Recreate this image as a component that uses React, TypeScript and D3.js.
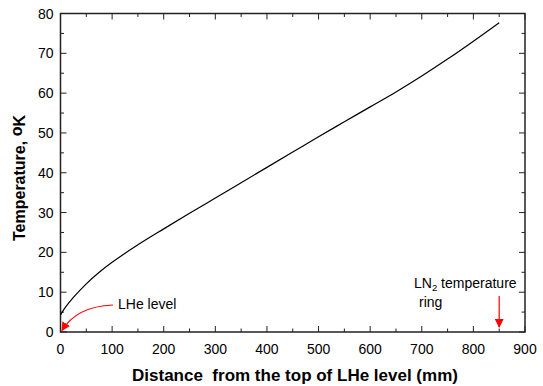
import * as d3 from "d3"
import { useEffect, useRef } from "react"

// distance from top of LHe level (mm) vs temperature (K)
const distance = [0, 10, 25, 50, 75, 100, 150, 200, 250, 300, 350, 400, 450, 500, 550, 600, 650, 700, 750, 800, 850]
const temperature = [4.3, 6.3, 8.7, 12.1, 15.0, 17.5, 21.9, 25.9, 29.8, 33.65, 37.5, 41.35, 45.2, 49.05, 52.8, 56.55, 60.3, 64.3, 68.55, 73.05, 77.7]

const xMajor = [0, 100, 200, 300, 400, 500, 600, 700, 800, 900]
const xMinor = [50, 150, 250, 350, 450, 550, 650, 750, 850]
const yMajor = [0, 10, 20, 30, 40, 50, 60, 70, 80]
const yMinor = [5, 15, 25, 35, 45, 55, 65, 75]

const W = 543
const H = 386
const margin = { left: 60.5, right: 18, top: 13.5, bottom: 54 }
const FONT = "'Liberation Sans', Arial, sans-serif"

const App = () => {
    const svgRef = useRef(null)

    useEffect(() => {
        const svg = d3.select(svgRef.current)
        svg.selectAll("*").remove()

        const x = d3.scaleLinear().domain([0, 900]).range([margin.left, W - margin.right])
        const y = d3.scaleLinear().domain([0, 80]).range([H - margin.bottom, margin.top])
        const [x0, x1] = x.range()
        const [y0, y1] = y.range()

        const defs = svg.append("defs")
        defs.append("marker")
            .attr("id", "redhead")
            .attr("viewBox", "0 0 10 10")
            .attr("refX", 9).attr("refY", 5)
            .attr("markerWidth", 9).attr("markerHeight", 9)
            .attr("markerUnits", "userSpaceOnUse")
            .attr("orient", "auto")
            .append("path")
            .attr("d", "M0,0 L10,5 L0,10 Z")
            .attr("fill", "#ff0000")

        // frame
        svg.append("rect")
            .attr("x", x0).attr("y", y1)
            .attr("width", x1 - x0).attr("height", y0 - y1)
            .attr("fill", "none").attr("stroke", "#222").attr("stroke-width", 1.5)

        const g = svg.append("g").attr("stroke", "#222").attr("stroke-width", 1)
        // inward ticks on all sides
        xMajor.forEach(v => {
            g.append("line").attr("x1", x(v)).attr("x2", x(v)).attr("y1", y0).attr("y2", y0 - 6)
            g.append("line").attr("x1", x(v)).attr("x2", x(v)).attr("y1", y1).attr("y2", y1 + 6)
        })
        xMinor.forEach(v => {
            g.append("line").attr("x1", x(v)).attr("x2", x(v)).attr("y1", y0).attr("y2", y0 - 3.5)
            g.append("line").attr("x1", x(v)).attr("x2", x(v)).attr("y1", y1).attr("y2", y1 + 3.5)
        })
        yMajor.forEach(v => {
            g.append("line").attr("x1", x0).attr("x2", x0 + 6).attr("y1", y(v)).attr("y2", y(v))
            g.append("line").attr("x1", x1).attr("x2", x1 - 6).attr("y1", y(v)).attr("y2", y(v))
        })
        yMinor.forEach(v => {
            g.append("line").attr("x1", x0).attr("x2", x0 + 3.5).attr("y1", y(v)).attr("y2", y(v))
            g.append("line").attr("x1", x1).attr("x2", x1 - 3.5).attr("y1", y(v)).attr("y2", y(v))
        })

        // tick labels
        svg.append("g").selectAll("text").data(xMajor).join("text")
            .attr("x", d => x(d)).attr("y", y0 + 22)
            .attr("text-anchor", "middle")
            .attr("font-family", FONT).attr("font-size", 14)
            .text(d => d)
        svg.append("g").selectAll("text").data(yMajor).join("text")
            .attr("x", x0 - 7).attr("y", d => y(d) + 5)
            .attr("text-anchor", "end")
            .attr("font-family", FONT).attr("font-size", 14)
            .text(d => d)

        // axis titles
        svg.append("text")
            .attr("x", 295).attr("y", 381)
            .attr("text-anchor", "middle")
            .attr("font-family", FONT).attr("font-size", 17).attr("font-weight", "bold")
            .attr("xml:space", "preserve")
            .text("Distance  from the top of LHe level (mm)")
        const yt = svg.append("text")
            .attr("transform", "translate(25,178) rotate(-90)")
            .attr("text-anchor", "middle")
            .attr("font-family", FONT).attr("font-size", 16).attr("font-weight", "bold")
        yt.append("tspan").text("Temperature, ")
        yt.append("tspan").attr("dy", -3).text("o")
        yt.append("tspan").attr("dy", 3).text("K")

        // data curve
        const line = d3.line()
            .x(d => x(d[0]))
            .y(d => y(d[1]))
            .curve(d3.curveCatmullRom.alpha(0.5))
        svg.append("path")
            .datum(distance.map((d, i) => [d, temperature[i]]))
            .attr("d", line)
            .attr("fill", "none")
            .attr("stroke", "#000")
            .attr("stroke-width", 1.2)

        // LHe level annotation
        svg.append("path")
            .attr("d", `M113,305 C88,306 72,314 ${x(0) + 1.5},${y(0) - 1.5}`)
            .attr("fill", "none").attr("stroke", "#ff0000").attr("stroke-width", 1.2)
            .attr("marker-end", "url(#redhead)")
        svg.append("text")
            .attr("x", 118).attr("y", 309)
            .attr("font-family", FONT).attr("font-size", 14)
            .text("LHe level")

        // LN2 ring annotation
        svg.append("line")
            .attr("x1", x(850)).attr("x2", x(850))
            .attr("y1", 296).attr("y2", y0 - 5)
            .attr("stroke", "#ff0000").attr("stroke-width", 1.2)
            .attr("marker-end", "url(#redhead)")
        const ln = svg.append("text")
            .attr("x", 414).attr("y", 288)
            .attr("font-family", FONT).attr("font-size", 14)
        ln.append("tspan").text("LN")
        ln.append("tspan").attr("dy", 3).attr("font-size", 9.5).text("2")
        ln.append("tspan").attr("dy", -3).text(" temperature")
        svg.append("text")
            .attr("x", 419).attr("y", 307)
            .attr("font-family", FONT).attr("font-size", 14)
            .text("ring")
    }, [])

    return (
        <svg ref={svgRef} width={W} height={H} style={{ display: "block", position: "absolute", left: 0, top: 0, background: "#fff" }}></svg>
    )
}

export default App
